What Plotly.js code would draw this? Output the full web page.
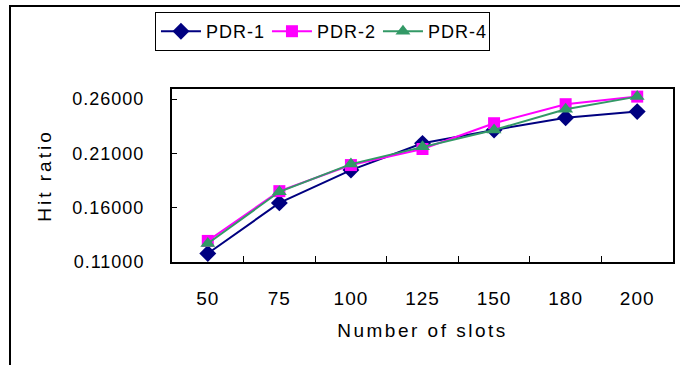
<!DOCTYPE html>
<html>
<head>
<meta charset="utf-8">
<script src="https://cdn.plot.ly/plotly-3.0.1.min.js"></script>
<style>
  html, body { margin:0; padding:0; background:#fff; overflow:hidden; }
  #wrap { position:relative; width:680px; height:365px; }
  #chart { position:absolute; left:0; top:0; width:680px; height:365px; }
  #frame { position:absolute; left:9px; top:5px; width:700px; height:400px;
           border-left:2px solid #000; border-top:2px solid #000; pointer-events:none; }
  .legendtext { letter-spacing:1px; }
  .xtick text { letter-spacing:1px; }
  .ytick text { letter-spacing:1px; }
  .g-xtitle text { letter-spacing:2.5px; }
  .g-ytitle text { letter-spacing:3px; }
</style>
</head>
<body>
<div id="wrap">
  <div id="chart"></div>
  <div id="frame"></div>
</div>
<script>
const categories = ["50", "75", "100", "125", "150", "180", "200"];
const pdr1 = [0.1178, 0.1644, 0.1946, 0.2192, 0.2315, 0.2428, 0.2484];
const pdr2 = [0.1294, 0.1752, 0.1992, 0.2140, 0.2377, 0.2552, 0.2622];
const pdr4 = [0.1270, 0.1746, 0.2001, 0.2161, 0.2315, 0.2506, 0.2622];
const seriesNames = ["PDR-1", "PDR-2", "PDR-4"];
const yTicks = [0.11, 0.16, 0.21, 0.26];
const yTickText = ["0.11000", "0.16000", "0.21000", "0.26000"];

const fontFam = '"Liberation Sans", Arial, sans-serif';

const traces = [
  { x: categories, y: pdr1, name: seriesNames[0], type: 'scatter', mode: 'lines+markers',
    line: { color: '#000080', width: 2 },
    marker: { symbol: 'diamond', size: 13, color: '#000080' } },
  { x: categories, y: pdr2, name: seriesNames[1], type: 'scatter', mode: 'lines+markers',
    line: { color: '#FF00FF', width: 2 },
    marker: { symbol: 'square', size: 12, color: '#FF00FF' } },
  { x: categories, y: pdr4, name: seriesNames[2], type: 'scatter', mode: 'lines+markers',
    line: { color: '#339966', width: 2 },
    marker: { symbol: 'triangle-up', size: 13, color: '#339966' } }
];

const layout = {
  width: 680, height: 365,
  margin: { l: 172, r: 7, t: 89, b: 103 },
  paper_bgcolor: '#fff', plot_bgcolor: '#fff',
  font: { family: fontFam, color: '#000', size: 18 },
  showlegend: true,
  legend: {
    orientation: 'h', x: -0.034, y: 1.445, xanchor: 'left', yanchor: 'top',
    bordercolor: '#000', borderwidth: 1, bgcolor: '#fff',
    font: { family: fontFam, size: 18, color: '#000' },
    itemwidth: 40, tracegroupgap: 0,
    entrywidthmode: 'pixels', entrywidth: 56
  },
  xaxis: {
    type: 'category', range: [-0.5, 6.5],
    showline: true, linecolor: '#000', linewidth: 2, mirror: true,
    showgrid: false, zeroline: false,
    ticks: 'inside', ticklen: 6, tickcolor: '#000', tickwidth: 1,
    tickson: 'boundaries',
    tickfont: { family: fontFam, size: 19, color: '#000' },
    ticklabelstandoff: 18,
    title: { text: 'Number of slots', font: { family: fontFam, size: 19, color: '#000' }, standoff: 16 },
    fixedrange: true
  },
  yaxis: {
    range: [0.11, 0.2692],
    tickvals: yTicks, ticktext: yTickText,
    showline: true, linecolor: '#000', linewidth: 2, mirror: true,
    showgrid: false, zeroline: false,
    ticks: 'inside', ticklen: 5, tickcolor: '#000', tickwidth: 1,
    tickfont: { family: fontFam, size: 18, color: '#000' },
    ticklabelstandoff: 22,
    title: { text: 'Hit ratio', font: { family: fontFam, size: 19, color: '#000' }, standoff: 16 },
    fixedrange: true
  }
};

Plotly.newPlot('chart', traces, layout, { displayModeBar: false, staticPlot: true });
</script>
</body>
</html>
